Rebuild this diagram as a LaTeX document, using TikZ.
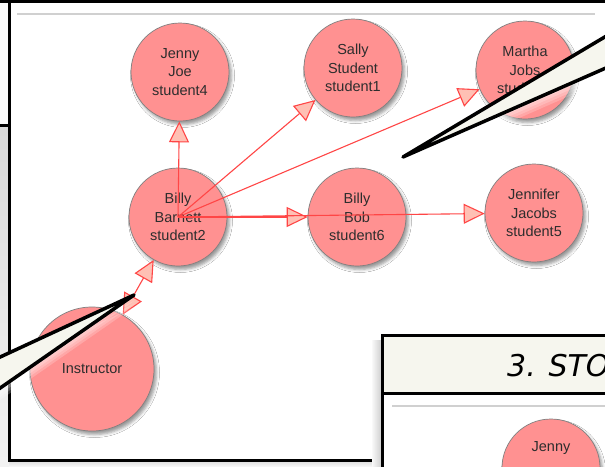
\documentclass[tikz,border=0pt]{standalone}
\usepackage{fontspec}
\setmainfont{Liberation Sans}
\newfontfamily\comicfont{DejaVu Sans}
\usetikzlibrary{arrows.meta,shadows.blur}

\definecolor{nodefill}{RGB}{255,145,145}
\definecolor{nodeedge}{RGB}{128,128,128}
\definecolor{edgecol}{RGB}{255,70,70}
\definecolor{tipfill}{RGB}{255,192,180}
\definecolor{inkcol}{RGB}{45,45,45}
\definecolor{balloon}{RGB}{246,246,238}
\definecolor{rulegray}{RGB}{208,208,208}

\begin{document}
\begin{tikzpicture}[x=1pt, y=-1pt,
	>={Triangle[length=21pt,width=20pt,fill=tipfill]},
	student/.style={circle, draw=nodeedge, line width=.7pt, fill=nodefill,
		minimum size=98pt, inner sep=0pt, align=center, text=inkcol,
		font=\fontsize{14.5}{18.5}\selectfont,
		blur shadow={shadow xshift=2.5pt, shadow yshift=-3.5pt,
			shadow blur radius=3pt, shadow opacity=40}},
	link/.style={->, draw=edgecol, line width=1.1pt},
	frame/.style={line width=3pt, black},
	tail/.style={draw=black, line width=3.5pt, fill=balloon, line join=round}]

	\useasboundingbox (0,0) rectangle (605,466);
	\clip (0,0) rectangle (605,466);

	% === PANELS === (((
	\fill[gray!4] (0,0) rectangle (9,125);
	\shade[top color=gray!30, bottom color=gray!10] (0,125) rectangle (9,466);
	\fill[white] (9,1) rectangle (620,460);
	\shade[top color=gray!30, bottom color=gray!8] (9,460) rectangle (382,466);

	\draw[frame] (0,1.5) -- (620,1.5);
	\draw[frame] (0,125) -- (9,125);
	\draw[frame] (9,0) -- (9,460) -- (382,460);

	\draw[rulegray, line width=1.2pt] (17,14) -- (595,14);
	% )))

	% === NODES === (((
	\node[student] (jenny) at (180,72) {Jenny\\Joe\\student4};
	\node[student] (sally) at (353,68) {Sally\\Student\\student1};
	\node[student] (martha) at (525,70) {Martha\\Jobs\\student3};

	\node[student] (barnett) at (178,217) {Billy\\Barnett\\student2};
	\node[student] (bob) at (357,217) {Billy\\Bob\\student6};
	\node[student] (jennifer) at (534,213) {Jennifer\\Jacobs\\student5};

	\node[student, minimum size=124pt] (instructor) at (92,369) {Instructor};
	% )))

	% === LINES === (((
	\draw[link] (barnett.center) -- (jenny);
	\draw[link] (barnett.center) -- (sally);
	\draw[link] (barnett.center) -- (martha);
	\draw[link] (barnett.center) -- (bob);
	\draw[link] (barnett.center) -- (jennifer);

	\draw[link, <->] (instructor) -- (barnett);
	% )))

	% === NEXT PANEL === (((
	\shade[left color=gray!5, right color=gray!40] (372,340) rectangle (382,466);
	\fill[white] (382,335) rectangle (620,480);
	\fill[balloon] (382,335) rectangle (620,393);
	\draw[frame] (382,480) -- (382,335) -- (620,335);
	\draw[frame] (382,393) -- (620,393);
	\node[anchor=base west, inner sep=0pt,
		font=\comicfont\itshape\fontsize{30}{32}\selectfont] (storytitle) at (507,376) {3. STO};
	\draw[rulegray, line width=1.2pt] (392,406) -- (620,406);
	\node[student] (storyjenny) at (551,468) {Jenny\\\strut\\\strut};
	% )))

	% === BALLOON TAILS === (((
	\foreach \d in {3,6,9,12}
		\fill[white, opacity=.2] (403,157+\d) -- (640,16+\d) -- (640,53+\d) -- cycle;
	\foreach \d in {3,6,9,12}
		\fill[white, opacity=.2] (134,295+\d) -- (-30,371+\d) -- (-30,409+\d) -- cycle;

	\draw[tail] (403,157) -- (640,16) -- (640,53) -- cycle;
	\draw[tail] (134,295) -- (-30,371) -- (-30,409) -- cycle;
	% )))

\end{tikzpicture}
\end{document}
